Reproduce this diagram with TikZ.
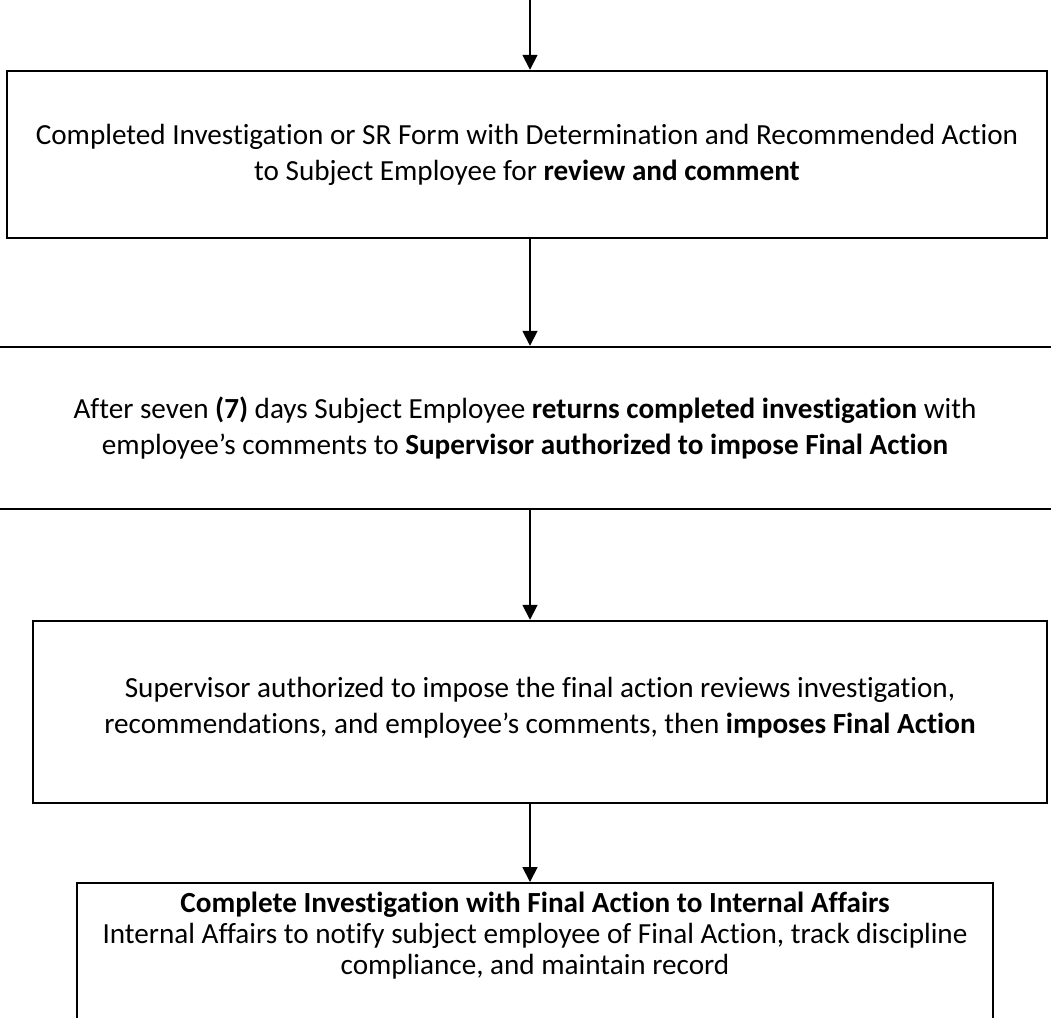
\documentclass[tikz,border=0pt]{standalone}
\usepackage{fontspec}
\setmainfont{Carlito}[Ligatures=NoCommon]
\usetikzlibrary{positioning,arrows.meta}
\tikzset{%
  stepbox/.style={draw, rectangle, line width=1.4pt, align=center, inner sep=0pt},% framed step
  steptext/.style={align=center, inner sep=0pt},% text set inside a step
  flow/.style={line width=1pt, -{Triangle[length=3mm,width=3mm]}}% arrow between steps
}
\newcommand*{\stepfont}{\fontsize{16.6}{20.5}\selectfont}

\begin{document}
\begin{tikzpicture}[font=\stepfont]
\useasboundingbox (0,0) rectangle (21.02,-20.34);
\clip (0,0) rectangle (21.02,-20.34);
\coordinate (top) at (10.6,0);
\node[stepbox, minimum width=20.8cm, minimum height=3.34cm] (review) at (10.54,-3.09)
  {Completed Investigation or SR Form with Determination and Recommended Action\\
   to Subject Employee for \textbf{review and comment}};
\node[stepbox, minimum width=22cm, minimum height=3.24cm] (returns) at (10.5,-8.56)
  {After seven \textbf{(7)} days Subject Employee \textbf{returns completed investigation} with\\
   employee’s comments to \textbf{Supervisor authorized to impose Final Action}};
\node[stepbox, minimum width=20.28cm, minimum height=3.64cm] (impose) at (10.8,-14.24) {};
\node[steptext] (impose text) at (10.8,-14.16)
  {Supervisor authorized to impose the final action reviews investigation,\\
   recommendations, and employee’s comments, then \textbf{imposes Final Action}};
\node[stepbox, minimum width=18.32cm, minimum height=3.4cm, anchor=north] (notify) at (10.7,-17.64) {};
\node[steptext, font=\fontsize{16.6}{17.6}\selectfont] (notify text) at (10.7,-18.72)
  {\textbf{Complete Investigation with Final Action to Internal Affairs}\\
   Internal Affairs to notify subject employee of Final Action, track discipline\\
   compliance, and maintain record};
\draw[flow] (top) -- (top |- review.north);
\draw[flow] (top |- review.south) -- (top |- returns.north);
\draw[flow] (top |- returns.south) -- (top |- impose.north);
\draw[flow] (top |- impose.south) -- (top |- notify.north);
\end{tikzpicture}
\end{document}
